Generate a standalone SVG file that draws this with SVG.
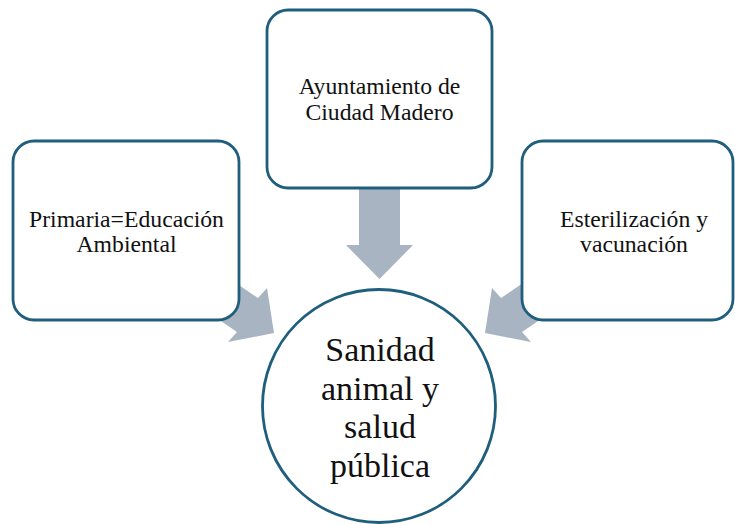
<svg xmlns="http://www.w3.org/2000/svg" width="735" height="524" viewBox="0 0 735 524">
<style>
.box{fill:#fff;stroke:#1F5E7C;stroke-width:2.8}
.arr{fill:#A8B4C1;stroke:none}
.t{font-family:"Liberation Serif","Times New Roman",serif;font-size:23.7px;fill:#111;text-anchor:middle}
.big{font-family:"Liberation Serif","Times New Roman",serif;font-size:34px;fill:#111;text-anchor:middle}
</style>
<rect width="735" height="524" fill="#fff"/>
<g id="connectors">
<polygon class="arr" points="359,180 400,180 400,245 413,245 379.5,279 346,245 359,245"/>
<polygon class="arr" points="208,264 258,298 267,288 274,333 228,342 237,332 187,298"/>
<polygon class="arr" points="551,264 501,298 492,288 485,333 531,342 522,332 572,298"/>
</g>
<g id="node-ayuntamiento">
<rect class="box" x="267" y="10" width="225" height="178" rx="21"/>
<text class="t" x="379.5" y="94">Ayuntamiento de</text>
<text class="t" x="379.5" y="120">Ciudad Madero</text>
</g>
<g id="node-primaria">
<rect class="box" x="13" y="141" width="226" height="179" rx="21"/>
<text class="t" x="126.5" y="226.5">Primaria=Educación</text>
<text class="t" x="126.5" y="252">Ambiental</text>
</g>
<g id="node-esterilizacion">
<rect class="box" x="522" y="141" width="211" height="179" rx="21"/>
<text class="t" x="634" y="226.5">Esterilización y</text>
<text class="t" x="634" y="252">vacunación</text>
</g>
<g id="node-sanidad">
<circle class="box" cx="379" cy="406" r="116.5"/>
<text class="big" x="380" y="361">Sanidad</text>
<text class="big" x="380" y="399.5">animal y</text>
<text class="big" x="380" y="438">salud</text>
<text class="big" x="380" y="477">pública</text>
</g>
</svg>
